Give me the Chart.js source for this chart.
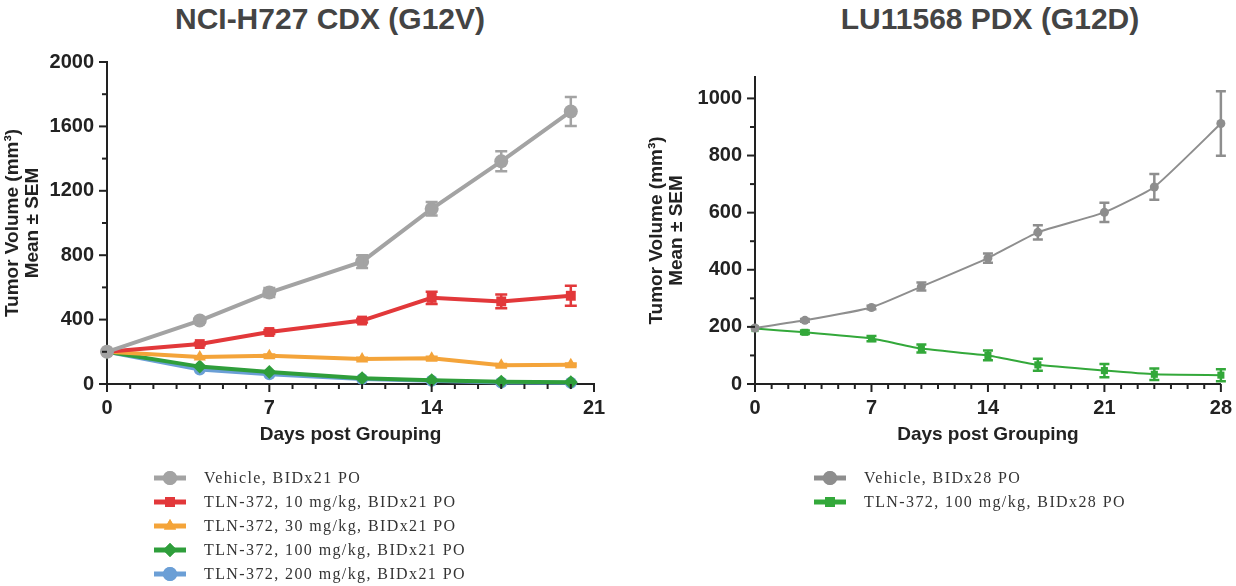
<!DOCTYPE html>
<html>
<head>
<meta charset="utf-8">
<script src="https://cdn.jsdelivr.net/npm/chart.js@4.4.1/dist/chart.umd.min.js"></script>
<style>
  body { margin: 0; background: #fff; width: 1236px; height: 586px; position: relative; overflow: hidden; }
  .titulo { position: absolute; top: 2px; font: bold 30px "Liberation Sans", Arial, sans-serif; color: #444; white-space: nowrap; transform: translateX(-50%); }
  .painel { position: absolute; top: 0; }
  .legenda { position: absolute; font: 16px "Liberation Serif", "Times New Roman", serif; color: #333; letter-spacing: 1.4px; }
  .legenda .linha { height: 24px; display: flex; align-items: center; }
  .legenda canvas { margin-right: 16px; }
</style>
</head>
<body>
<div class="titulo" style="left:330px">NCI-H727 CDX (G12V)</div>
<div class="titulo" style="left:990px">LU11568 PDX (G12D)</div>
<div class="painel" style="left:0"><canvas id="cdx" width="618" height="460"></canvas></div>
<div class="painel" style="left:618px"><canvas id="pdx" width="618" height="460"></canvas></div>
<div class="legenda" id="legCdx" style="left:152px; top:466px"></div>
<div class="legenda" id="legPdx" style="left:812px; top:466px"></div>
<script>
// NCI-H727 CDX (G12V)
const diasCdx = [0, 4, 7, 11, 14, 17, 20];
const cdxVeiculo = [200, 394, 568, 760, 1088, 1383, 1693];
const cdxVeiculoSem = [0, 12, 28, 40, 42, 62, 90];
const cdx10 = [200, 248, 323, 394, 535, 513, 548];
const cdx10Sem = [0, 8, 12, 12, 38, 43, 62];
const cdx30 = [200, 167, 175, 155, 160, 116, 120];
const cdx30Sem = [0, 6, 8, 8, 10, 8, 8];
const cdx100 = [200, 108, 74, 36, 23, 14, 11];
const cdx200 = [200, 90, 60, 31, 20, 10, 8];
const cdxRotulos = [
  "Vehicle, BIDx21 PO",
  "TLN-372, 10 mg/kg, BIDx21 PO",
  "TLN-372, 30 mg/kg, BIDx21 PO",
  "TLN-372, 100 mg/kg, BIDx21 PO",
  "TLN-372, 200 mg/kg, BIDx21 PO"
];
const cdxTicksDias = [0, 7, 14, 21];
const cdxTicksVol = [0, 400, 800, 1200, 1600, 2000];

// LU11568 PDX (G12D)
const diasPdx = [0, 3, 7, 10, 14, 17, 21, 24, 28];
const pdxVeiculo = [196, 223, 268, 341, 441, 531, 601, 690, 912];
const pdxVeiculoSem = [0, 5, 6, 14, 16, 25, 34, 45, 113];
const pdx100 = [194, 181, 159, 124, 100, 67, 47, 34, 31];
const pdx100Sem = [0, 6, 9, 14, 17, 21, 23, 20, 21];
const pdxRotulos = [
  "Vehicle, BIDx28 PO",
  "TLN-372, 100 mg/kg, BIDx28 PO"
];
const pdxTicksDias = [0, 7, 14, 21, 28];
const pdxTicksVol = [0, 200, 400, 600, 800, 1000];

const fonteEixo = "'Liberation Sans', Arial, sans-serif";

function pontos(dias, valores) {
    return dias.map((d, i) => ({ x: d, y: valores[i] }));
}

// barras de erro (SEM) desenhadas pelas escalas do grafico
const barrasErro = {
    id: "barrasErro",
    afterDatasetsDraw(chart) {
        const ctx = chart.ctx;
        const sx = chart.scales.x, sy = chart.scales.y;
        chart.data.datasets.forEach((ds, i) => {
            if (!ds.sem) return;
            ctx.save();
            ctx.strokeStyle = ds.borderColor;
            ctx.lineWidth = ds.larguraErro;
            ds.data.forEach((p, j) => {
                const e = ds.sem[j];
                if (!e) return;
                const x = sx.getPixelForValue(p.x);
                const y1 = sy.getPixelForValue(p.y - e);
                const y2 = sy.getPixelForValue(p.y + e);
                const c = ds.capa;
                ctx.beginPath();
                ctx.moveTo(x, y1); ctx.lineTo(x, y2);
                ctx.moveTo(x - c, y1); ctx.lineTo(x + c, y1);
                ctx.moveTo(x - c, y2); ctx.lineTo(x + c, y2);
                ctx.stroke();
            });
            ctx.restore();
        });
    }
};

// marcas dos eixos: maiores onde tem rotulo, menores no resto
const marcasEixo = {
    id: "marcasEixo",
    afterDraw(chart) {
        const ctx = chart.ctx;
        ctx.save();
        ctx.strokeStyle = "#222";
        ctx.lineWidth = 2;
        const sx = chart.scales.x, sy = chart.scales.y;
        sx.ticks.forEach(t => {
            const px = sx.getPixelForValue(t.value);
            const len = sx.options.maiores.includes(t.value) ? 8 : 5;
            ctx.beginPath();
            ctx.moveTo(px, sx.top); ctx.lineTo(px, sx.top + len);
            ctx.stroke();
        });
        sy.ticks.forEach(t => {
            const py = sy.getPixelForValue(t.value);
            const len = sy.options.maiores.includes(t.value) ? 8 : 5;
            ctx.beginPath();
            ctx.moveTo(sy.right, py); ctx.lineTo(sy.right - len, py);
            ctx.stroke();
        });
        ctx.restore();
    }
};

function criarGrafico(id, cfg) {
    const ctx = document.getElementById(id).getContext("2d");
    return new Chart(ctx, {
        type: "line",
        data: { datasets: cfg.datasets },
        options: {
            responsive: false,
            animation: false,
            layout: { padding: { top: cfg.topo, right: cfg.direita, left: 0, bottom: 0 } },
            plugins: { legend: { display: false }, tooltip: { enabled: false } },
            scales: {
                x: {
                    type: "linear",
                    min: 0,
                    max: cfg.maxX,
                    maiores: cfg.ticksX,
                    afterBuildTicks: s => { s.ticks = []; for (let d = 0; d <= cfg.maxX; d++) s.ticks.push({ value: d }); },
                    afterFit: s => { s.height = 460 - cfg.baseY; },
                    grid: { drawOnChartArea: false, tickLength: 8, tickColor: "rgba(0,0,0,0)" },
                    border: { color: "#222", width: 2 },
                    ticks: {
                        autoSkip: false,
                        maxRotation: 0,
                        padding: 4,
                        color: "#222",
                        font: { family: fonteEixo, size: 20, weight: "bold" },
                        callback: v => cfg.ticksX.includes(v) ? v : ""
                    },
                    title: {
                        display: true,
                        text: "Days post Grouping",
                        color: "#222",
                        font: { family: fonteEixo, size: 19, weight: "bold" },
                        padding: { top: 0, bottom: 14 }
                    }
                },
                y: {
                    min: 0,
                    max: cfg.maxY,
                    maiores: cfg.ticksY,
                    afterBuildTicks: s => { s.ticks = []; for (let v = 0; v <= cfg.ticksY[cfg.ticksY.length - 1]; v += cfg.passoY) s.ticks.push({ value: v }); },
                    afterFit: s => { s.width = cfg.larguraY; },
                    grid: { drawOnChartArea: false, tickLength: 8, tickColor: "rgba(0,0,0,0)" },
                    border: { color: "#222", width: 2 },
                    ticks: {
                        autoSkip: false,
                        padding: 5,
                        color: "#222",
                        font: { family: fonteEixo, size: 20, weight: "bold" },
                        callback: v => cfg.ticksY.includes(v) ? v : ""
                    },
                    title: {
                        display: true,
                        text: ["Tumor Volume (mm³)", "Mean ± SEM"],
                        color: "#222",
                        font: { family: fonteEixo, size: 19, weight: "bold", lineHeight: 1.05 },
                        padding: { top: cfg.padTituloY, bottom: 0 }
                    }
                }
            }
        },
        plugins: [barrasErro, marcasEixo]
    });
}

function serie(rotulo, dias, valores, sem, cor, estilo, raio, largura, extra) {
    return Object.assign({
        label: rotulo,
        data: pontos(dias, valores),
        sem: sem,
        borderColor: cor,
        backgroundColor: cor,
        borderWidth: largura,
        pointStyle: estilo,
        pointRadius: raio,
        pointBorderWidth: 0,
        pointBackgroundColor: cor,
        tension: 0,
        clip: false,
        larguraErro: 2.5,
        capa: 6
    }, extra || {});
}

const cinza = "#a3a3a3", vermelho = "#e2383a", laranja = "#f4a43a", verde = "#2f9e3b", azul = "#6b9fd6";
const cinzaPdx = "#8e8e8e", verdePdx = "#33a83a";

const dsCdx = [
    serie(cdxRotulos[0], diasCdx, cdxVeiculo, cdxVeiculoSem, cinza, "circle", 7, 4),
    serie(cdxRotulos[1], diasCdx, cdx10, cdx10Sem, vermelho, "rect", 7, 4),
    serie(cdxRotulos[2], diasCdx, cdx30, cdx30Sem, laranja, "triangle", 7, 4),
    serie(cdxRotulos[3], diasCdx, cdx100, null, verde, "rectRot", 7, 4),
    serie(cdxRotulos[4], diasCdx, cdx200, null, azul, "circle", 6, 4)
];

const dsPdx = [
    serie(pdxRotulos[0], diasPdx, pdxVeiculo, pdxVeiculoSem, cinzaPdx, "circle", 4.5, 2, { tension: 0.15, larguraErro: 2.5, capa: 5 }),
    serie(pdxRotulos[1], diasPdx, pdx100, pdx100Sem, verdePdx, "rect", 5, 2, { tension: 0.15, larguraErro: 2.5, capa: 5 })
];

criarGrafico("cdx", {
    datasets: dsCdx, topo: 62, direita: 24, baseY: 384, maxX: 21, maxY: 2000,
    ticksX: cdxTicksDias, ticksY: cdxTicksVol, passoY: 200, larguraY: 107, padTituloY: 3
});

criarGrafico("pdx", {
    datasets: dsPdx, topo: 77, direita: 8, baseY: 384, maxX: 28, maxY: 1075,
    ticksX: pdxTicksDias, ticksY: pdxTicksVol, passoY: 100, larguraY: 137, padTituloY: 29
});

function montarLegenda(id, datasets) {
    const caixa = document.getElementById(id);
    datasets.forEach(ds => {
        const linha = document.createElement("div");
        linha.className = "linha";
        const c = document.createElement("canvas");
        c.width = 36; c.height = 20;
        const g = c.getContext("2d");
        g.strokeStyle = ds.borderColor;
        g.lineWidth = 5;
        g.beginPath(); g.moveTo(2, 10); g.lineTo(34, 10); g.stroke();
        g.fillStyle = ds.borderColor;
        Chart.helpers.drawPoint(g, { pointStyle: ds.pointStyle, radius: 7, borderWidth: 0 }, 18, 10);
        g.fill();
        linha.appendChild(c);
        const t = document.createElement("span");
        t.textContent = ds.label;
        linha.appendChild(t);
        caixa.appendChild(linha);
    });
}
montarLegenda("legCdx", dsCdx);
montarLegenda("legPdx", dsPdx);
</script>
</body>
</html>
